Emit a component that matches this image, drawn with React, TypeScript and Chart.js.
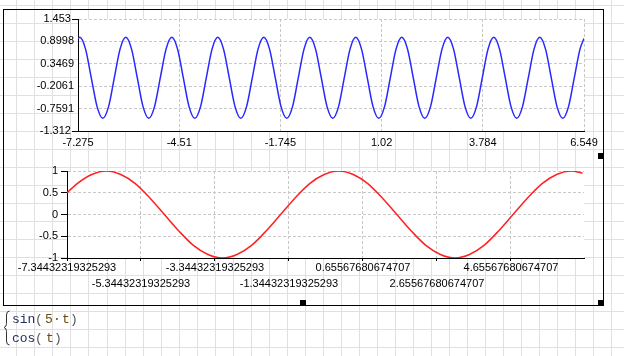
import React, { useEffect, useRef } from 'react';
import { Chart, registerables } from 'chart.js';

Chart.register(...registerables);

// ---- top plot: sin(5·t) ----
const sinT = [
  -7.275,
  -7.226, -7.069, -6.912, -6.754, -6.597, -6.44, -6.283, -6.126,
  -5.969, -5.812, -5.655, -5.498, -5.341, -5.184, -5.027, -4.869,
  -4.712, -4.555, -4.398, -4.241, -4.084, -3.927, -3.77, -3.613,
  -3.456, -3.299, -3.142, -2.985, -2.827, -2.67, -2.513, -2.356,
  -2.199, -2.042, -1.885, -1.728, -1.571, -1.414, -1.257, -1.1,
  -0.942, -0.785, -0.628, -0.471, -0.314, -0.157, 0.0, 0.157,
  0.314, 0.471, 0.628, 0.785, 0.942, 1.1, 1.257, 1.414,
  1.571, 1.728, 1.885, 2.042, 2.199, 2.356, 2.513, 2.67,
  2.827, 2.985, 3.142, 3.299, 3.456, 3.613, 3.77, 3.927,
  4.084, 4.241, 4.398, 4.555, 4.712, 4.869, 5.027, 5.184,
  5.341, 5.498, 5.655, 5.812, 5.969, 6.126, 6.283, 6.44,
  6.549,
];
const sinY = [
  0.97,
  1, 0.71, 0, -0.71, -1, -0.71, 0, 0.71,
  1, 0.71, 0, -0.71, -1, -0.71, 0, 0.71,
  1, 0.71, 0, -0.71, -1, -0.71, 0, 0.71,
  1, 0.71, 0, -0.71, -1, -0.71, 0, 0.71,
  1, 0.71, 0, -0.71, -1, -0.71, 0, 0.71,
  1, 0.71, 0, -0.71, -1, -0.71, 0, 0.71,
  1, 0.71, 0, -0.71, -1, -0.71, 0, 0.71,
  1, 0.71, 0, -0.71, -1, -0.71, 0, 0.71,
  1, 0.71, 0, -0.71, -1, -0.71, 0, 0.71,
  1, 0.71, 0, -0.71, -1, -0.71, 0, 0.71,
  1, 0.71, 0, -0.71, -1, -0.71, 0, 0.71,
  0.97,
];
const topXTicks = [-7.275, -4.51, -1.745, 1.02, 3.784, 6.549];
const topXLabels = ['-7.275', '-4.51', '-1.745', '1.02', '3.784', '6.549'];
const topYTicks = [-1.312, -0.7591, -0.2061, 0.3469, 0.8998, 1.453];
const topYLabels = ['-1.312 ', '-0.7591', '-0.2061', '0.3469', '0.8998', '1.453 '];

// ---- bottom plot: cos(t) ----
const cosT = [
  -7.344, -7.069, -6.676, -6.283, -5.89, -5.498, -5.105, -4.712, -4.32,
  -3.927, -3.534, -3.142, -2.749, -2.356, -1.963, -1.571, -1.178, -0.785,
  -0.393, 0, 0.393, 0.785, 1.178, 1.571, 1.963, 2.356, 2.749, 3.142,
  3.534, 3.927, 4.32, 4.712, 5.105, 5.498, 5.89, 6.283, 6.59,
];
const cosY = [
  0.5, 0.71, 0.92, 1, 0.92, 0.71, 0.38, 0, -0.38,
  -0.71, -0.92, -1, -0.92, -0.71, -0.38, 0, 0.38, 0.71,
  0.92, 1, 0.92, 0.71, 0.38, 0, -0.38, -0.71, -0.92, -1,
  -0.92, -0.71, -0.38, 0, 0.38, 0.71, 0.92, 1, 0.95,
];
const botXTicks = [
  -7.34432319325293, -5.34432319325293, -3.34432319325293, -1.34432319325293,
  0.65567680674707, 2.65567680674707, 4.65567680674707,
];
const botXLabels = [
  '-7.34432319325293', '-5.34432319325293', '-3.34432319325293', '-1.34432319325293',
  '0.65567680674707', '2.65567680674707', '4.65567680674707',
];
const botYTicks = [-1, -0.5, 0, 0.5, 1];
const botYLabels = ['-1', '-0.5', '0', '0.5', '1'];

const W = 624;
const H = 356;

const whiteArea = {
  id: 'whiteArea',
  beforeDraw(chart: any) {
    const { ctx, chartArea: a } = chart;
    ctx.save();
    ctx.fillStyle = '#ffffff';
    ctx.fillRect(a.left, a.top, a.right - a.left, a.bottom - a.top);
    ctx.restore();
  },
};

const FONT = { family: "'Liberation Sans', Arial, sans-serif", size: 11 };
const GRID = '#c8c8c8';

export default function App() {
  const bgRef = useRef<HTMLCanvasElement>(null);
  const topRef = useRef<HTMLCanvasElement>(null);
  const botRef = useRef<HTMLCanvasElement>(null);

  useEffect(() => {
    const bg = bgRef.current!;
    const g = bg.getContext('2d')!;
    g.fillStyle = '#ffffff';
    g.fillRect(0, 0, W, H);
    g.fillStyle = '#e0e0e0';
    for (let k = -1; k < 40; k++) {
      const x = Math.round(16.4 + 18.02 * k);
      if (x >= 0 && x < W) g.fillRect(x, 0, 1, H);
    }
    for (let k = 0; k < 25; k++) {
      const y = Math.round(5.3 + 18 * k);
      if (y < H) g.fillRect(0, y, W, 1);
    }

    const c1 = new Chart(topRef.current!, {
      type: 'line',
      data: {
        datasets: [
          {
            data: sinT.map((t, i) => ({ x: t, y: sinY[i] })),
            borderColor: '#2828ff',
            borderWidth: 1.5,
            pointRadius: 0,
            fill: false,
            cubicInterpolationMode: 'monotone',
          },
        ],
      },
      options: {
        responsive: false,
        animation: false,
        events: [],
        layout: { padding: { left: 0, right: 40, top: 19, bottom: 0 } },
        plugins: { legend: { display: false }, tooltip: { enabled: false } },
        scales: {
          x: {
            type: 'linear',
            min: -7.275,
            max: 6.549,
            afterBuildTicks: (s: any) => {
              s.ticks = topXTicks.map((v) => ({ value: v }));
            },
            afterFit: (s: any) => {
              s.height = 19;
            },
            ticks: {
              autoSkip: false,
              maxRotation: 0,
              minRotation: 0,
              padding: 0,
              color: '#000',
              font: FONT,
              callback: (_v: any, i: number) => topXLabels[i],
            },
            grid: {
              color: GRID,
              lineWidth: 1,
              tickLength: 5,
              tickColor: 'rgba(0,0,0,0)',
              tickBorderDash: [],
            },
            border: { color: '#000', width: 1, dash: [3, 2] },
          },
          y: {
            type: 'linear',
            min: -1.312,
            max: 1.453,
            afterBuildTicks: (s: any) => {
              s.ticks = topYTicks.map((v) => ({ value: v }));
            },
            afterFit: (s: any) => {
              s.width = 78;
            },
            ticks: {
              autoSkip: false,
              padding: -2,
              color: '#000',
              font: FONT,
              callback: (_v: any, i: number) => topYLabels[i],
            },
            grid: {
              color: GRID,
              lineWidth: 1,
              tickLength: 6,
              tickColor: (ctx: any) =>
                ctx.index === 0 || ctx.index === topYTicks.length - 1 ? '#000' : 'rgba(0,0,0,0)',
              tickBorderDash: [],
            },
            border: { color: '#000', width: 1, dash: [3, 2] },
          },
        },
      } as any,
      plugins: [whiteArea],
    });

    const c2 = new Chart(botRef.current!, {
      type: 'line',
      data: {
        datasets: [
          {
            data: cosT.map((t, i) => ({ x: t, y: cosY[i] })),
            borderColor: '#ff2020',
            borderWidth: 1.5,
            pointRadius: 0,
            fill: false,
            cubicInterpolationMode: 'monotone',
          },
        ],
      },
      options: {
        responsive: false,
        animation: false,
        events: [],
        layout: { padding: { left: 0, right: 40, top: 21, bottom: 0 } },
        plugins: { legend: { display: false }, tooltip: { enabled: false } },
        scales: {
          x: {
            type: 'linear',
            min: -7.34432319325293,
            max: 6.63,
            afterBuildTicks: (s: any) => {
              s.ticks = botXTicks.map((v) => ({ value: v }));
            },
            afterFit: (s: any) => {
              s.height = 48;
            },
            ticks: {
              autoSkip: false,
              maxRotation: 0,
              minRotation: 0,
              padding: -1,
              color: '#000',
              font: { ...FONT, lineHeight: '16px' },
              callback: (_v: any, i: number) =>
                i % 2 === 0 ? [botXLabels[i]] : ['', botXLabels[i]],
            },
            grid: {
              color: GRID,
              lineWidth: 1,
              tickLength: 3,
              tickColor: '#000',
              tickBorderDash: [],
            },
            border: { color: '#000', width: 1, dash: [3, 2] },
          },
          y: {
            type: 'linear',
            min: -1,
            max: 1,
            afterBuildTicks: (s: any) => {
              s.ticks = botYTicks.map((v) => ({ value: v }));
            },
            afterFit: (s: any) => {
              s.width = 67;
            },
            ticks: {
              autoSkip: false,
              padding: 3,
              color: '#000',
              font: FONT,
              callback: (_v: any, i: number) => botYLabels[i],
            },
            grid: {
              color: GRID,
              lineWidth: 1,
              tickLength: 6,
              tickColor: '#000',
              tickBorderDash: [],
            },
            border: { color: '#000', width: 1, dash: [3, 2] },
          },
        },
      } as any,
      plugins: [whiteArea],
    });

    return () => {
      c1.destroy();
      c2.destroy();
    };
  }, []);

  const mono: React.CSSProperties = {
    position: 'absolute',
    fontFamily: "'Liberation Mono', 'Courier New', monospace",
    fontSize: 13,
    lineHeight: '15px',
    whiteSpace: 'pre',
  };
  const fn = '#22305a';
  const par = '#5a5a5a';
  const arg = '#6a4a10';

  return (
    <div
      style={{
        position: 'absolute',
        left: 0,
        top: 0,
        width: W,
        height: H,
        overflow: 'hidden',
        background: '#fff',
      }}
    >
      <canvas ref={bgRef} width={W} height={H} style={{ position: 'absolute', left: 0, top: 0, width: W, height: H }} />
      <canvas ref={topRef} width={W} height={150} style={{ position: 'absolute', left: 0, top: 0, width: W, height: 150 }} />
      <canvas ref={botRef} width={W} height={156} style={{ position: 'absolute', left: 0, top: 150, width: W, height: 156 }} />

      {/* region frame */}
      <div
        style={{
          position: 'absolute',
          left: 3,
          top: 9,
          width: 601,
          height: 297,
          border: '1px solid #000',
          boxSizing: 'border-box',
        }}
      />
      {/* selection handles */}
      <div style={{ position: 'absolute', left: 598, top: 153, width: 6, height: 6, background: '#000' }} />
      <div style={{ position: 'absolute', left: 598, top: 300, width: 6, height: 6, background: '#000' }} />
      <div style={{ position: 'absolute', left: 300, top: 300, width: 6, height: 6, background: '#000' }} />

      {/* formula */}
      <svg width={20} height={50} style={{ position: 'absolute', left: 0, top: 306 }}>
        <path
          d="M9.5 5 Q6.5 5 6.5 9 L6.5 17.5 Q6.5 21 4 21.5 Q6.5 22 6.5 25.5 L6.5 35 Q6.5 39 9.5 39"
          fill="none"
          stroke="#333"
          strokeWidth={1}
        />
      </svg>
      <span style={{ ...mono, left: 12, top: 312, color: fn }}>sin</span>
      <span style={{ ...mono, left: 35, top: 312, color: par }}>(</span>
      <span style={{ ...mono, left: 45, top: 312, color: arg }}>5</span>
      <span style={{ ...mono, left: 53, top: 312, color: arg }}>·</span>
      <span style={{ ...mono, left: 62, top: 312, color: arg }}>t</span>
      <span style={{ ...mono, left: 70, top: 312, color: par }}>)</span>
      <span style={{ ...mono, left: 12, top: 331, color: fn }}>cos</span>
      <span style={{ ...mono, left: 35, top: 331, color: par }}>(</span>
      <span style={{ ...mono, left: 46, top: 331, color: arg }}>t</span>
      <span style={{ ...mono, left: 54, top: 331, color: par }}>)</span>
    </div>
  );
}
